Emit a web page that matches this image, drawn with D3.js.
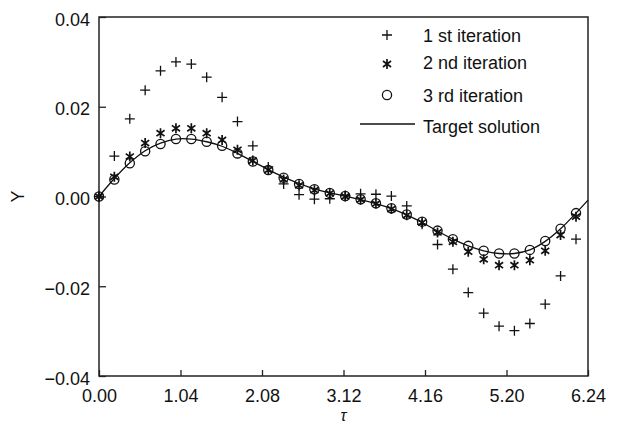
<!DOCTYPE html>
<html>
<head>
<meta charset="utf-8">
<script src="https://cdn.jsdelivr.net/npm/d3@7"></script>
<style>
  html, body { margin: 0; padding: 0; background: #fff; }
  svg { display: block; }
  text { font-family: "Liberation Sans", Arial, sans-serif; fill: #111; }
</style>
</head>
<body>
<svg id="chart" width="624" height="428"></svg>
<script>
// ---- data ----
const tau = [0, 0.196, 0.393, 0.589, 0.785, 0.982, 1.178, 1.374, 1.571, 1.767, 1.963, 2.160,
  2.356, 2.553, 2.749, 2.945, 3.142, 3.338, 3.534, 3.731, 3.927, 4.123, 4.320, 4.516,
  4.712, 4.909, 5.105, 5.301, 5.498, 5.694, 5.890, 6.087];
const iter1 = [0, 0.0090, 0.0173, 0.0237, 0.0280, 0.0300, 0.0295, 0.0266, 0.0221, 0.0167, 0.0113, 0.0066,
  0.0028, 0.0004, -0.0006, -0.0005, 0.0002, 0.0006, 0.0005, 0.0001, -0.0021, -0.0062, -0.0107, -0.0162,
  -0.0214, -0.0260, -0.0289, -0.0299, -0.0283, -0.0240, -0.0177, -0.0095];
const iter2 = [0, 0.0044, 0.0089, 0.0119, 0.0141, 0.0152, 0.0152, 0.0141, 0.0126, 0.0104, 0.0080, 0.0059,
  0.0038, 0.0025, 0.0014, 0.0007, 0.0000, -0.0007, -0.0016, -0.0028, -0.0042, -0.0058, -0.0080, -0.0101,
  -0.0123, -0.0140, -0.0153, -0.0153, -0.0142, -0.0121, -0.0086, -0.0045];
const iter3 = [0, 0.0038, 0.0074, 0.0101, 0.0117, 0.0128, 0.0128, 0.0122, 0.0113, 0.0096, 0.0078, 0.0059,
  0.0042, 0.0028, 0.0016, 0.0008, 0.0001, -0.0006, -0.0015, -0.0026, -0.0040, -0.0056, -0.0076, -0.0095,
  -0.0110, -0.0121, -0.0127, -0.0127, -0.0119, -0.0099, -0.0072, -0.0037];
const targetTau = [0, 0.196, 0.393, 0.589, 0.785, 0.982, 1.178, 1.374, 1.571, 1.767, 1.963, 2.160,
  2.356, 2.553, 2.749, 2.945, 3.142, 3.338, 3.534, 3.731, 3.927, 4.123, 4.320, 4.516,
  4.712, 4.909, 5.105, 5.301, 5.498, 5.694, 5.890, 6.087, 6.24];
const targetY = [0, 0.0040, 0.0075, 0.0102, 0.0119, 0.0128, 0.0128, 0.0122, 0.0112, 0.0096, 0.0078, 0.0060,
  0.0043, 0.0029, 0.0017, 0.0008, 0.0001, -0.0007, -0.0016, -0.0027, -0.0041, -0.0058, -0.0077, -0.0095,
  -0.0110, -0.0121, -0.0127, -0.0127, -0.0119, -0.0100, -0.0072, -0.0037, -0.0008];
const xTicks = [0, 1.04, 2.08, 3.12, 4.16, 5.20, 6.24];
const yTicks = [-0.04, -0.02, 0, 0.02, 0.04];
const legendLabels = ["1 st iteration", "2 nd iteration", "3 rd iteration", "Target solution"];

// ---- layout ----
const svg = d3.select("#chart");
const L = 99, R = 588, T = 17, B = 376;
const x = d3.scaleLinear().domain([0, 6.24]).range([L, R]);
const y = d3.scaleLinear().domain([-0.04, 0.04]).range([B, T]);
const fs = 18;

// axes
const xAxis = d3.axisBottom(x).tickValues(xTicks).tickFormat(d3.format(".2f"))
  .tickSizeInner(-6).tickSizeOuter(0).tickPadding(13);
const yAxis = d3.axisLeft(y).tickValues(yTicks).tickFormat(d3.format(".2f"))
  .tickSizeInner(-7).tickSizeOuter(0).tickPadding(9);

const gx = svg.append("g").attr("transform", `translate(0,${B})`).call(xAxis);
const gy = svg.append("g").attr("transform", `translate(${L},0)`).call(yAxis);
[gx, gy].forEach(g => {
  g.select(".domain").remove();
  g.selectAll(".tick line").attr("stroke", "#222").attr("stroke-width", 1.3);
  g.selectAll(".tick text").attr("font-size", fs)
    .attr("font-family", '"Liberation Sans", Arial, sans-serif').attr("fill", "#111");
});
gy.selectAll(".tick text").attr("dy", "0.45em");

// frame
svg.append("rect").attr("x", L).attr("y", T).attr("width", R - L).attr("height", B - T)
  .attr("fill", "none").attr("stroke", "#222").attr("stroke-width", 1.5);

// axis titles
svg.append("text").attr("transform", `translate(18,${(T + B) / 2}) rotate(-90)`)
  .attr("text-anchor", "middle").attr("dy", "0.35em").attr("font-size", fs).text("Y");
svg.append("text").attr("x", (L + R) / 2).attr("y", 421)
  .attr("text-anchor", "middle").attr("font-size", 16).attr("font-style", "italic")
  .attr("font-family", '"Liberation Serif", "DejaVu Serif", serif').text("τ");

// marker path generators
function plusPath(cx, cy, s) {
  return `M${cx - s},${cy}H${cx + s}M${cx},${cy - s}V${cy + s}`;
}
function starPath(cx, cy, s) {
  const dx = s * Math.cos(Math.PI / 5), dy = s * Math.sin(Math.PI / 5);
  return `M${cx},${cy - s}V${cy + s}` +
    `M${cx - dx},${cy - dy}L${cx + dx},${cy + dy}` +
    `M${cx - dx},${cy + dy}L${cx + dx},${cy - dy}`;
}

const plot = svg.append("g");

// 1st iteration (+)
plot.append("g").selectAll("path").data(tau.map((t, i) => [t, iter1[i]])).join("path")
  .attr("d", d => plusPath(x(d[0]), y(d[1]), 5))
  .attr("stroke", "#111").attr("stroke-width", 1.3).attr("fill", "none");

// 2nd iteration (*)
plot.append("g").selectAll("path").data(tau.map((t, i) => [t, iter2[i]])).join("path")
  .attr("d", d => starPath(x(d[0]), y(d[1]), 5))
  .attr("stroke", "#111").attr("stroke-width", 1.7).attr("fill", "none");

// target solution line
const line = d3.line().x(d => x(d[0])).y(d => y(d[1])).curve(d3.curveCatmullRom);
plot.append("path").datum(targetTau.map((t, i) => [t, targetY[i]]))
  .attr("d", line).attr("fill", "none").attr("stroke", "#111").attr("stroke-width", 1.3);

// 3rd iteration (o)
plot.append("g").selectAll("circle").data(tau.map((t, i) => [t, iter3[i]])).join("circle")
  .attr("cx", d => x(d[0])).attr("cy", d => y(d[1])).attr("r", 4.6)
  .attr("fill", "none").attr("stroke", "#111").attr("stroke-width", 1.3);

// legend
const lg = svg.append("g");
const symX = 387, textX = 423;
const rowsY = [35, 64, 95, 124];
lg.append("path").attr("d", plusPath(symX, rowsY[0], 5)).attr("stroke", "#111").attr("stroke-width", 1.3);
lg.append("path").attr("d", starPath(symX, rowsY[1], 5)).attr("stroke", "#111").attr("stroke-width", 1.7);
lg.append("circle").attr("cx", symX).attr("cy", rowsY[2]).attr("r", 4.6)
  .attr("fill", "none").attr("stroke", "#111").attr("stroke-width", 1.3);
lg.append("line").attr("x1", 360).attr("x2", 415).attr("y1", rowsY[3]).attr("y2", rowsY[3])
  .attr("stroke", "#111").attr("stroke-width", 1.3);
const textOffsets = [1, -1, 1, 3];
legendLabels.forEach((lab, i) => {
  lg.append("text").attr("x", textX).attr("y", rowsY[i] + textOffsets[i]).attr("dy", "0.35em")
    .attr("font-size", fs).text(lab);
});
</script>
</body>
</html>
